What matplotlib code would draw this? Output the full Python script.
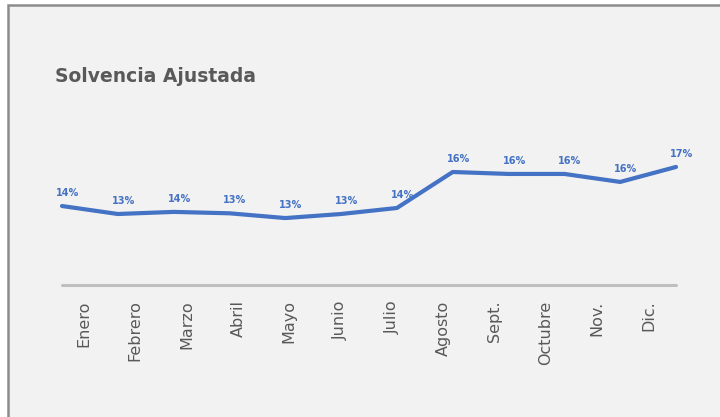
import numpy as np
import matplotlib.pyplot as plt
from matplotlib.patches import Rectangle

meses = ['Enero', 'Febrero', 'Marzo', 'Abril', 'Mayo', 'Junio',
         'Julio', 'Agosto', 'Sept.', 'Octubre', 'Nov.', 'Dic.']
solvencia = [13.97, 13.40, 13.55, 13.45, 13.11, 13.40,
             13.83, 16.40, 16.26, 16.26, 15.69, 16.76]

azul = '#4472c4'
gris = '#595959'

plt.rcParams['font.family'] = ['DejaVu Sans']

fig = plt.figure(figsize=(7.2, 4.17), dpi=100)
fig.patch.set_facecolor('white')

# marco gris del recuadro
fig.patches.append(Rectangle((8 / 720, -0.05), 1.0, 1 - 5 / 417 + 0.05,
                             transform=fig.transFigure, facecolor='#f2f2f2',
                             edgecolor='#8c8c8c', lw=1.8, zorder=-1))

fig.text(55 / 720, 1 - 76 / 417, 'Solvencia Ajustada', fontsize=13.5,
         fontweight='bold', color=gris, ha='left', va='center')

ax = fig.add_axes([62 / 720, 1 - 285 / 417, 614 / 720, 135 / 417])
ax.set_zorder(2)
ax.set_facecolor('none')
x = np.arange(len(meses))
ax.plot(x, solvencia, color=azul, lw=3, solid_capstyle='round',
        solid_joinstyle='round', clip_on=False)

for xi, v in zip(x, solvencia):
    ax.annotate(f'{v:.0f}%', (xi, v), xytext=(4, 6), textcoords='offset points',
                ha='center', va='bottom', fontsize=7, fontweight='bold',
                color=azul)

ax.set_xlim(0, 11)
ax.set_ylim(8.33, 17.97)
for s in ['top', 'right', 'left']:
    ax.spines[s].set_visible(False)
ax.spines['bottom'].set_color('#bfbfbf')
ax.spines['bottom'].set_linewidth(2.2)
ax.spines['bottom'].set_capstyle('round')
ax.set_yticks([])

# las etiquetas del eje no van alineadas con los puntos
pos = (22 + 51.3 * x) / 55.8
ax.set_xticks(pos)
ax.set_xticklabels(meses, rotation=90, fontsize=11.5, color=gris,
                   ha='center', va='top')
ax.tick_params(axis='x', length=0, pad=11)

fig.savefig('out.png', dpi=100)
